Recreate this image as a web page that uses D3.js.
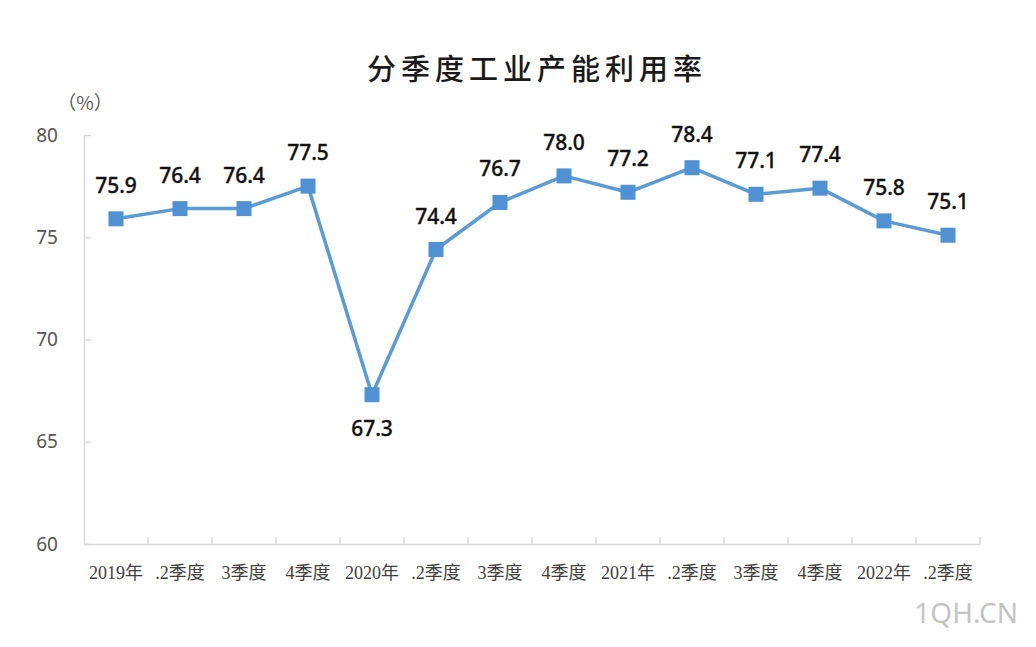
<!DOCTYPE html>
<html>
<head>
<meta charset="utf-8">
<script src="https://cdn.jsdelivr.net/npm/d3@7/dist/d3.min.js"></script>
<style>
  html, body { margin: 0; padding: 0; background: #ffffff; }
  svg { display: block; }
</style>
</head>
<body>
<svg id="chart" width="1036" height="647"></svg>
<script>
const categories = ["2019年", ".2季度", "3季度", "4季度", "2020年", ".2季度", "3季度", "4季度",
                    "2021年", ".2季度", "3季度", "4季度", "2022年", ".2季度"];
const values = [75.9, 76.4, 76.4, 77.5, 67.3, 74.4, 76.7, 78.0, 77.2, 78.4, 77.1, 77.4, 75.8, 75.1];
const yTicks = [60, 65, 70, 75, 80];
const titleText = "分季度工业产能利用率";
const unitText = "（%）";
const watermark = "1QH.CN";

(function () {
const svg = d3.select("#chart");
const mLeft = 84, mRight = 980, mTop = 135, mBottom = 544;

const x = d3.scaleBand().domain(d3.range(categories.length)).range([mLeft, mRight]);
const y = d3.scaleLinear().domain([60, 80]).range([mBottom, mTop]);
const axisColor = "#d9d9d9";

// Title
svg.append("text")
  .attr("x", 537).attr("y", 80)
  .attr("text-anchor", "middle")
  .attr("font-family", "'Noto Sans CJK SC', sans-serif")
  .attr("font-size", 29)
  .attr("letter-spacing", 5)
  .attr("font-weight", 500)
  .attr("fill", "#1a1a1a")
  .text(titleText);

// Unit
svg.append("text")
  .attr("x", 85).attr("y", 110)
  .attr("text-anchor", "middle")
  .attr("font-family", "'Noto Sans CJK SC', sans-serif")
  .attr("font-size", 19)
  .attr("fill", "#595959")
  .text(unitText);

// Y axis
const yAxis = svg.append("g")
  .attr("transform", `translate(${mLeft},0)`)
  .call(d3.axisLeft(y).tickValues(yTicks).tickSizeInner(-7).tickSizeOuter(0).tickPadding(26));
yAxis.select(".domain").attr("stroke", axisColor).attr("stroke-width", 1.5);
yAxis.selectAll(".tick line").attr("stroke", axisColor).attr("stroke-width", 1.5);
yAxis.selectAll(".tick text")
  .attr("font-family", "'Noto Sans', 'Open Sans', sans-serif")
  .attr("font-size", 19)
  .attr("fill", "#555555");

// X axis
const xAxis = svg.append("g")
  .attr("transform", `translate(0,${mBottom})`)
  .call(d3.axisBottom(x).tickFormat(i => categories[i]).tickSize(0).tickPadding(22));
xAxis.select(".domain").attr("stroke", axisColor).attr("stroke-width", 1.5);
xAxis.selectAll(".tick text")
  .attr("font-family", "'Liberation Serif', 'Noto Sans CJK SC', serif")
  .attr("font-size", 18)
  .attr("fill", "#404040");

// band boundary ticks
const boundaries = d3.range(categories.length).map(i => x(i) + x.bandwidth());
svg.append("g").selectAll("line")
  .data(boundaries)
  .join("line")
  .attr("x1", d => d).attr("x2", d => d)
  .attr("y1", mBottom).attr("y2", mBottom - 7)
  .attr("stroke", axisColor).attr("stroke-width", 1.5);

// Line
const lineColor = "#5b9bd5";
const line = d3.line()
  .x((d, i) => x(i) + x.bandwidth() / 2)
  .y(d => y(d));
svg.append("path")
  .datum(values)
  .attr("d", line)
  .attr("fill", "none")
  .attr("stroke", lineColor)
  .attr("stroke-width", 3.5)
  .attr("stroke-linejoin", "round");

// Markers
const ms = 15;
svg.append("g").selectAll("rect")
  .data(values)
  .join("rect")
  .attr("x", (d, i) => x(i) + x.bandwidth() / 2 - ms / 2)
  .attr("y", d => y(d) - ms / 2)
  .attr("width", ms).attr("height", ms)
  .attr("fill", "#4f91d2");

// Labels
svg.append("g").selectAll("text")
  .data(values)
  .join("text")
  .attr("x", (d, i) => x(i) + x.bandwidth() / 2)
  .attr("y", (d, i) => i === 4 ? y(d) + 41 : y(d) - 26)
  .attr("text-anchor", "middle")
  .attr("font-family", "'Noto Sans', 'Open Sans', sans-serif")
  .attr("font-size", 21)
  .attr("font-weight", 500)
  .attr("fill", "#111111")
  .attr("stroke", "#111111")
  .attr("stroke-width", 0.3)
  .text(d => d.toFixed(1));

// Watermark
svg.append("text")
  .attr("x", 1018).attr("y", 623)
  .attr("text-anchor", "end")
  .attr("font-family", "'Noto Sans', sans-serif")
  .attr("font-size", 28)
  .attr("fill", "#c4c4c4")
  .text(watermark);
})();
</script>
</body>
</html>
